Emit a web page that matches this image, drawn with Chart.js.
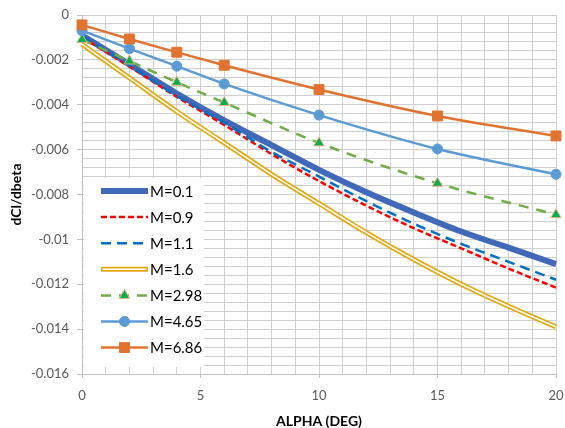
<!DOCTYPE html>
<html>
<head>
<meta charset="utf-8">
<script src="https://cdn.jsdelivr.net/npm/chart.js@4.4.1/dist/chart.umd.min.js"></script>
<style>
  html, body { margin: 0; padding: 0; background: #fff; }
  #wrap { width: 565px; height: 428px; position: relative; }
</style>
</head>
<body>
<div id="wrap"><canvas id="chart"></canvas></div>
<script>
// Angle of attack samples (deg)
const alphaSmooth = [0, 2, 4, 6, 8, 10, 12, 14, 16, 18, 20];
const alphaMarked = [0, 2, 4, 6, 10, 15, 20];

// dCl/dbeta per Mach number
const m01  = [-0.0009, -0.0022, -0.0035, -0.0047, -0.0058, -0.0069, -0.0079, -0.0088, -0.00965, -0.01037, -0.0111];
const m09  = [-0.001, -0.0023, -0.00365, -0.0049, -0.0062, -0.0074, -0.0085, -0.0095, -0.0104, -0.0113, -0.01215];
const m11  = [-0.00095, -0.00225, -0.0036, -0.0048, -0.0061, -0.0072, -0.0083, -0.0093, -0.0102, -0.011, -0.0118];
const m16  = [-0.0013, -0.0028, -0.0043, -0.0057, -0.0071, -0.0084, -0.0097, -0.0109, -0.012, -0.01298, -0.0139];
const m298 = [-0.0011, -0.00205, -0.003, -0.0039, -0.0057, -0.0075, -0.0089];
const m465 = [-0.0007, -0.0015, -0.00228, -0.00307, -0.00446, -0.00597, -0.0071];
const m686 = [-0.00044, -0.00107, -0.00166, -0.00224, -0.00332, -0.0045, -0.00539];

const seriesLabels = ['M=0.1', 'M=0.9', 'M=1.1', 'M=1.6', 'M=2.98', 'M=4.65', 'M=6.86'];

const yTicksMajor = 0.002;
const xTicksMajor = 5;

function pts(xs, ys) {
    return xs.map((x, i) => ({ x: x, y: ys[i] }));
}

const FONT = "Lato, 'Open Sans', sans-serif";

function lineSet(label, xs, ys, style) {
    return Object.assign({
        label: label,
        data: pts(xs, ys),
        fill: false,
        pointRadius: 0,
        pointHoverRadius: 0,
        cubicInterpolationMode: 'monotone',
        clip: false
    }, style);
}

const datasets = [
    lineSet(seriesLabels[0], alphaSmooth, m01, { borderColor: '#4169B9', borderWidth: 6, order: 8 }),
    lineSet(seriesLabels[1], alphaSmooth, m09, { borderColor: '#FF0000', borderWidth: 2.5, borderDash: [6, 3], order: 7 }),
    lineSet(seriesLabels[2], alphaSmooth, m11, { borderColor: '#0070C0', borderWidth: 2.5, borderDash: [10, 6], order: 6 }),
    lineSet(seriesLabels[3], alphaSmooth, m16, { borderColor: '#E3A712', borderWidth: 5, order: 5, doubleLine: true }),
    // inner white stroke to make the M=1.6 line look doubled
    lineSet('', alphaSmooth, m16, { borderColor: '#FFFFFF', borderWidth: 1.6, order: 4, innerOnly: true }),
    lineSet(seriesLabels[4], alphaMarked, m298, {
        borderColor: '#70AD47', borderWidth: 2.5, borderDash: [10, 8], order: 3,
        pointStyle: 'triangle', pointRadius: 6, pointBackgroundColor: '#00B050',
        pointBorderColor: '#F4B183', pointBorderWidth: 1
    }),
    lineSet(seriesLabels[5], alphaMarked, m465, {
        borderColor: '#5B9BD5', borderWidth: 2.5, order: 2,
        pointStyle: 'circle', pointRadius: 5, pointBackgroundColor: '#5B9BD5',
        pointBorderColor: '#5B9BD5', pointBorderWidth: 1
    }),
    lineSet(seriesLabels[6], alphaMarked, m686, {
        borderColor: '#E0732F', borderWidth: 2.5, order: 1,
        pointStyle: 'rect', pointRadius: 7, pointBackgroundColor: '#E0732F',
        pointBorderColor: '#E0732F', pointBorderWidth: 1
    })
];

function isMultiple(v, step) {
    const r = v / step;
    return Math.abs(r - Math.round(r)) < 1e-6;
}

// legend drawn inside the plot, lower left
const insideLegend = {
    id: 'insideLegend',
    afterDatasetsDraw(chart) {
        const ctx = chart.ctx;
        const area = chart.chartArea;
        const items = chart.data.datasets.filter(d => !d.innerOnly);
        const boxX = area.left + 2, boxY = 178, boxW = 120, boxH = 189;
        const lineX0 = 101, lineX1 = 148, textX = 150, firstY = 191, rowH = 26.1;
        ctx.save();
        ctx.fillStyle = '#FFFFFF';
        ctx.fillRect(boxX, boxY, boxW, boxH);
        ctx.font = '15px ' + FONT;
        ctx.textBaseline = 'middle';
        ctx.textAlign = 'left';
        items.forEach((d, i) => {
            const y = firstY + i * rowH;
            ctx.lineCap = 'butt';
            if (d.doubleLine) {
                ctx.setLineDash([]);
                ctx.strokeStyle = d.borderColor;
                ctx.lineWidth = d.borderWidth;
                ctx.beginPath(); ctx.moveTo(lineX0, y); ctx.lineTo(lineX1, y); ctx.stroke();
                ctx.strokeStyle = '#FFFFFF';
                ctx.lineWidth = 1.6;
                ctx.beginPath(); ctx.moveTo(lineX0 + 1.5, y); ctx.lineTo(lineX1 - 1.5, y); ctx.stroke();
            } else {
                ctx.setLineDash(d.borderDash || []);
                ctx.strokeStyle = d.borderColor;
                ctx.lineWidth = d.borderWidth;
                ctx.beginPath(); ctx.moveTo(lineX0, y); ctx.lineTo(lineX1, y); ctx.stroke();
            }
            ctx.setLineDash([]);
            if (d.pointRadius > 0) {
                const cx = (lineX0 + lineX1) / 2;
                ctx.fillStyle = d.pointBackgroundColor;
                ctx.strokeStyle = d.pointBorderColor;
                ctx.lineWidth = d.pointBorderWidth;
                Chart.helpers.drawPoint(ctx, {
                    pointStyle: d.pointStyle, radius: d.pointRadius, rotation: 0,
                    borderWidth: d.pointBorderWidth
                }, cx, y);
            }
            ctx.fillStyle = '#000000';
            ctx.fillText(d.label, textX, y + 1);
        });
        ctx.restore();
    }
};

const ctx = document.getElementById('chart').getContext('2d');
new Chart(ctx, {
    type: 'line',
    data: { datasets: datasets },
    plugins: [insideLegend],
    options: {
        responsive: true,
        maintainAspectRatio: false,
        animation: false,
        layout: { padding: { top: 15, right: 9, bottom: 0, left: 0 } },
        plugins: {
            legend: { display: false },
            tooltip: { enabled: false }
        },
        scales: {
            x: {
                type: 'linear',
                min: 0, max: 20,
                ticks: {
                    stepSize: 1,
                    autoSkip: false,
                    maxRotation: 0,
                    color: '#595959',
                    font: { family: FONT, size: 13 },
                    padding: 10,
                    callback: v => isMultiple(v, xTicksMajor) ? String(v) : ''
                },
                grid: {
                    color: '#CFCFCF',
                    lineWidth: 1,
                    tickLength: 4,
                    tickColor: c => isMultiple(c.tick.value, xTicksMajor) ? '#BFBFBF' : 'rgba(0,0,0,0)'
                },
                border: { color: '#BFBFBF' },
                title: {
                    display: true,
                    text: 'ALPHA (DEG)',
                    color: '#000000',
                    font: { family: FONT, size: 14, weight: 'bold' },
                    padding: { top: 0, bottom: -2 }
                },
                afterFit: s => { s.height = 54; s.paddingLeft = 0; s.paddingRight = 0; }
            },
            y: {
                type: 'linear',
                min: -0.016, max: 0,
                ticks: {
                    stepSize: 0.0004,
                    autoSkip: false,
                    color: '#595959',
                    font: { family: FONT, size: 13 },
                    padding: 8,
                    callback: v => isMultiple(v, yTicksMajor) ? String(+v.toFixed(3)) : ''
                },
                grid: {
                    color: '#CFCFCF',
                    lineWidth: 1,
                    tickLength: 5,
                    tickColor: c => isMultiple(c.tick.value, yTicksMajor) ? '#BFBFBF' : 'rgba(0,0,0,0)'
                },
                border: { color: '#BFBFBF' },
                title: {
                    display: true,
                    text: 'dCl/dbeta',
                    color: '#000000',
                    font: { family: FONT, size: 14, weight: 'bold' },
                    padding: { top: 8, bottom: 2 }
                },
                afterFit: s => { s.width = 82; s.paddingTop = 0; s.paddingBottom = 0; }
            }
        }
    }
});
</script>
</body>
</html>
